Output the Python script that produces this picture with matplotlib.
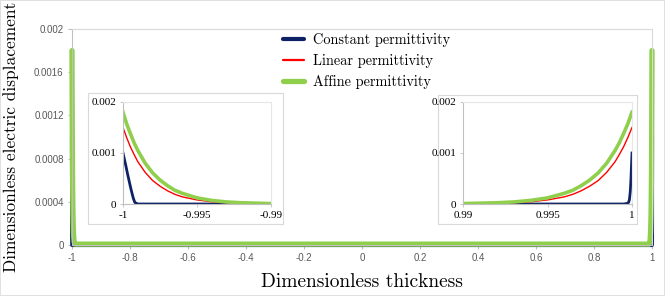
import numpy as np
import matplotlib
matplotlib.use("Agg")
import matplotlib.pyplot as plt
from matplotlib.patches import Rectangle

plt.rcParams['axes.unicode_minus'] = False

# distance from the nearest boundary (|x| = 1 - d) and the values
d_grid = [0, 0.00025, 0.0005, 0.00075, 0.001, 0.0015, 0.002, 0.0025, 0.003,
          0.0035, 0.004, 0.005, 0.006, 0.007, 0.008, 0.01]
affine = [0.00180, 0.00157, 0.00138, 0.00120, 0.00105, 0.00080, 0.00061, 0.00047,
          0.00036, 0.00027, 0.00021, 0.00012, 0.00007, 0.00004, 0.000024, 0.000008]
linear = [0.00150, 0.00130, 0.00112, 0.00097, 0.00083, 0.00062, 0.00046, 0.00035,
          0.00026, 0.00019, 0.00014, 0.00008, 0.000044, 0.000024, 0.000014, 0.000004]
# constant permittivity: left boundary (x = -1) and right boundary (x = 1)
d_const_left = [0, 0.0001, 0.0002, 0.0003, 0.0004, 0.0005, 0.0006, 0.0007, 0.0008, 0.001, 0.01]
constant_left = [0.00100, 0.00087, 0.00074, 0.00060, 0.00047, 0.00034, 0.00022, 0.00011,
                 0.00003, 0.0, 0.0]
d_const_right = [0, 0.00003, 0.00006, 0.0001, 0.00015, 0.0002, 0.0003, 0.0005, 0.01]
constant_right = [0.00100, 0.00075, 0.00050, 0.00025, 0.00009, 0.00003, 0.00001, 0.0, 0.0]

labels = ["Constant permittivity", "Linear permittivity", "Affine permittivity"]
colors = ["#0d2266", "#ff0000", "#8fcf4c"]

main_xticks = [-1, -0.8, -0.6, -0.4, -0.2, 0, 0.2, 0.4, 0.6, 0.8, 1]
main_xlabels = ["-1", "-0.8", "-0.6", "-0.4", "-0.2", "0", "0.2", "0.4", "0.6", "0.8", "1"]
main_yticks = [0, 0.0004, 0.0008, 0.0012, 0.0016, 0.002]
main_ylabels = ["0", "0.0004", "0.0008", "0.0012", "0.0016", "0.002"]
inset_yticks = [0, 0.001, 0.002]
inset_ylabels = ["0", "0.001", "0.002"]
left_xticks = [-1, -0.995, -0.99]
left_xlabels = ["-1", "-0.995", "-0.99"]
right_xticks = [0.99, 0.995, 1]
right_xlabels = ["0.99", "0.995", "1"]


def full_profile(dl, vl, dr, vr):
    x = np.concatenate([-1 + np.array(dl), (1 - np.array(dr))[::-1]])
    y = np.concatenate([np.array(vl), np.array(vr)[::-1]])
    return x, y


series = [full_profile(d_const_left, constant_left, d_const_right, constant_right),
          full_profile(d_grid, linear, d_grid, linear),
          full_profile(d_grid, affine, d_grid, affine)]

W, H = 665, 296
fig = plt.figure(figsize=(W / 100, H / 100), dpi=100)
fig.patch.set_edgecolor("#e0e0e0")
fig.patch.set_linewidth(1.2)

grey = "#595959"
spine = "#d9d9d9"

ax = fig.add_axes([72 / W, 1 - 245 / H, 580 / W, 216 / H])
main_lw = [3.0, 1.6, 3.8]
handles = []
for (x, y), c, lw, lab in zip(series, colors, main_lw, labels):
    h, = ax.plot(x, y, color=c, lw=lw, label=lab, clip_on=False,
                 solid_capstyle="round")
    handles.append(h)
ax.set_xlim(-1, 1)
ax.set_ylim(0, 0.002)
ax.set_xticks(main_xticks)
ax.set_xticklabels(main_xlabels)
ax.set_yticks(main_yticks)
ax.set_yticklabels(main_ylabels)
ax.tick_params(labelsize=7, colors=grey, length=3, width=0.8, pad=3)
ax.tick_params(axis="both", color="#bfbfbf")
for lab in ax.get_xticklabels() + ax.get_yticklabels():
    lab.set_family("Liberation Sans")
for s in ["left", "bottom"]:
    ax.spines[s].set_color("#bfbfbf")
for s in ["top", "right"]:
    ax.spines[s].set_color(spine)
ax.set_xlabel("Dimensionless thickness", fontfamily="cmr10", fontsize=14, labelpad=7)
ax.set_ylabel("Dimensionless electric displacement", fontfamily="cmr10", fontsize=12.5, labelpad=11)

leg = ax.legend(handles=handles, loc="upper left", bbox_to_anchor=(283 / W, 1 - 33 / H),
                bbox_transform=fig.transFigure, frameon=False, prop={"family": "cmr10", "size": 10.3},
                handlelength=1.5, handletextpad=0.6, labelspacing=0.5, borderpad=0, borderaxespad=0)
for line, lw in zip(leg.get_lines(), [3.0, 1.6, 3.8]):
    line.set_linewidth(lw)

# inset frames
for (x0, y0, x1, y1) in [(88, 93, 283, 224), (438, 95, 637, 224)]:
    fig.add_artist(Rectangle((x0 / W, 1 - y1 / H), (x1 - x0) / W, (y1 - y0) / H,
                             transform=fig.transFigure, facecolor="white",
                             edgecolor="#d9d9d9", lw=0.8, zorder=1))

inset_lw = [2.0, 1.0, 2.6]
insets = [([123, 102, 271, 204], (-1, -0.99), left_xticks, left_xlabels),
          ([463, 102, 632, 204], (0.99, 1), right_xticks, right_xlabels)]
for (x0, y0, x1, y1), xlim, xt, xl in insets:
    ia = fig.add_axes([x0 / W, 1 - y1 / H, (x1 - x0) / W, (y1 - y0) / H], zorder=2)
    for (x, y), c, lw in zip(series, colors, inset_lw):
        ia.plot(x, y, color=c, lw=lw)
    ia.set_xlim(*xlim)
    ia.set_ylim(0, 0.002)
    ia.set_xticks(xt)
    ia.set_xticklabels(xl)
    ia.set_yticks(inset_yticks)
    ia.set_yticklabels(inset_ylabels)
    ia.tick_params(labelsize=8, colors="black", length=2, width=0.6, pad=3)
    ia.tick_params(axis="both", color="#bfbfbf")
    for lab in ia.get_xticklabels() + ia.get_yticklabels():
        lab.set_family("Liberation Serif")
    for s in ["left", "bottom"]:
        ia.spines[s].set_color("#bfbfbf")
    for s in ["top", "right"]:
        ia.spines[s].set_color("#e6e6e6")

fig.savefig("out.png", dpi=100)
